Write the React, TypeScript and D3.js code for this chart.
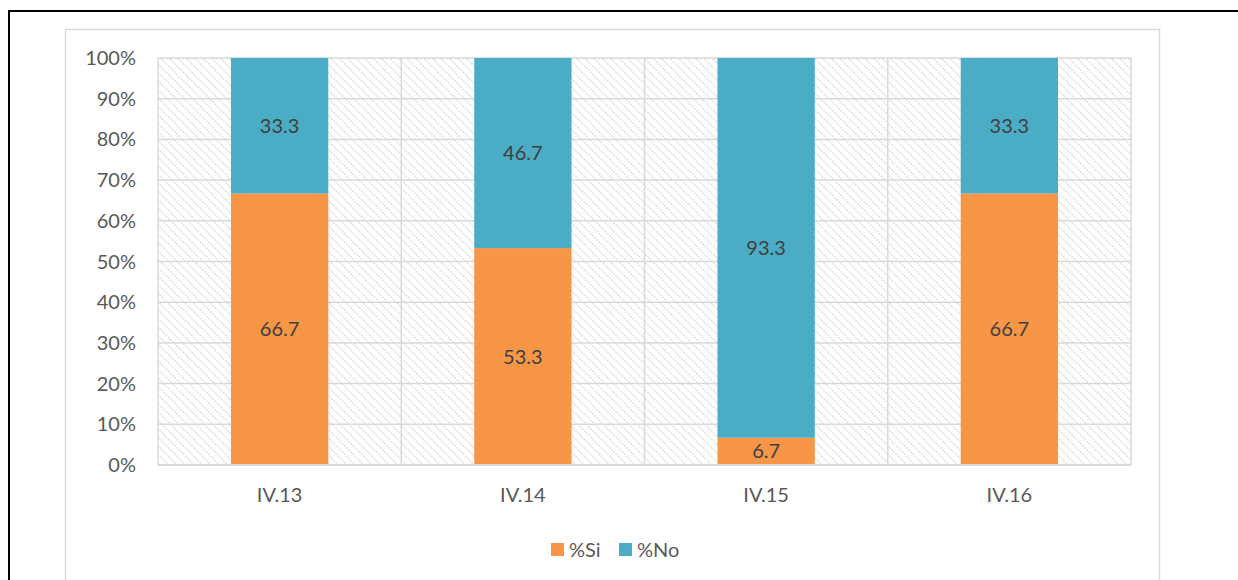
import React from "react";
import * as d3 from "d3";

const categories = ["IV.13", "IV.14", "IV.15", "IV.16"];
const siValues = [66.7, 53.3, 6.7, 66.7];
const noValues = [33.3, 46.7, 93.3, 33.3];
const yTicks = [0, 10, 20, 30, 40, 50, 60, 70, 80, 90, 100];
const seriesNames = ["%Si", "%No"];
const seriesColors = ["#F79646", "#4BACC6"];

export default function App() {
  const W = 1238;
  const H = 580;
  const plot = { left: 158, right: 1131, top: 58, bottom: 465 };
  const x = d3.scaleBand<string>().domain(categories).range([plot.left, plot.right]).paddingInner(0.6).paddingOuter(0.3);
  const xOuter = d3.scaleBand<string>().domain(categories).range([plot.left, plot.right]);
  const y = d3.scaleLinear().domain([0, 100]).range([plot.bottom, plot.top]);
  const font = "Lato, 'Open Sans', sans-serif";
  const fs = 20;
  const stack = categories.map((c, i) => [
    { name: seriesNames[0], y0: 0, y1: siValues[i], v: siValues[i], color: seriesColors[0] },
    { name: seriesNames[1], y0: siValues[i], y1: siValues[i] + noValues[i], v: noValues[i], color: seriesColors[1] },
  ]);
  return (
    <svg width={W} height={H} style={{ position: "absolute", left: 0, top: 0 }}>
      <defs>
        <pattern id="hatch" width="6" height="6" patternUnits="userSpaceOnUse" patternTransform="rotate(-45)">
          <line x1="0" y1="0" x2="0" y2="6" stroke="#d4d4d4" strokeWidth="2" strokeDasharray="2 1" />
        </pattern>
      </defs>
      <rect x={0} y={0} width={W} height={H} fill="#fff" />
      <rect x={9} y={11} width={W + 20} height={H + 20} fill="none" stroke="#000" strokeWidth={2} />
      <rect x={65.5} y={29.5} width={1094} height={H} fill="#fff" stroke="#d9d9d9" strokeWidth={1.5} />
      <rect x={plot.left} y={plot.top} width={plot.right - plot.left} height={plot.bottom - plot.top} fill="url(#hatch)" />
      {yTicks.map((t) => (
        <g key={t}>
          <line x1={plot.left} x2={plot.right} y1={y(t)} y2={y(t)} stroke="#d9d9d9" strokeWidth={1.5} />
          <text x={plot.left - 22} y={y(t)} dy="0.35em" textAnchor="end" fontFamily={font} fontSize={fs} fill="#595959">
            {t}%
          </text>
        </g>
      ))}
      {categories.map((c) => (
        <line key={c} x1={xOuter(c)!} x2={xOuter(c)!} y1={plot.top} y2={plot.bottom} stroke="#d9d9d9" strokeWidth={1.5} />
      ))}
      <line x1={plot.right} x2={plot.right} y1={plot.top} y2={plot.bottom} stroke="#d9d9d9" strokeWidth={1.5} />
      {categories.map((c, i) => (
        <g key={c}>
          {stack[i].map((s) => (
            <g key={s.name}>
              <rect x={x(c)!} width={x.bandwidth()} y={y(s.y1)} height={y(s.y0) - y(s.y1)} fill={s.color} />
              <text x={x(c)! + x.bandwidth() / 2} y={(y(s.y0) + y(s.y1)) / 2} dy="0.35em" textAnchor="middle" fontFamily={font} fontSize={fs} fill="#404040">
                {s.v.toFixed(1)}
              </text>
            </g>
          ))}
          <text x={xOuter(c)! + xOuter.bandwidth() / 2} y={plot.bottom + 30} dy="0.35em" textAnchor="middle" fontFamily={font} fontSize={fs} fill="#595959">
            {c}
          </text>
        </g>
      ))}
      <line x1={plot.left} x2={plot.right} y1={plot.bottom} y2={plot.bottom} stroke="#d9d9d9" strokeWidth={2} />
      {seriesNames.map((n, i) => {
        const lx = 551 + i * 68;
        return (
          <g key={n}>
            <rect x={lx} y={543} width={13} height={13} fill={seriesColors[i]} />
            <text x={lx + 18} y={550} dy="0.35em" fontFamily={font} fontSize={fs} fill="#595959">
              {n}
            </text>
          </g>
        );
      })}
    </svg>
  );
}
